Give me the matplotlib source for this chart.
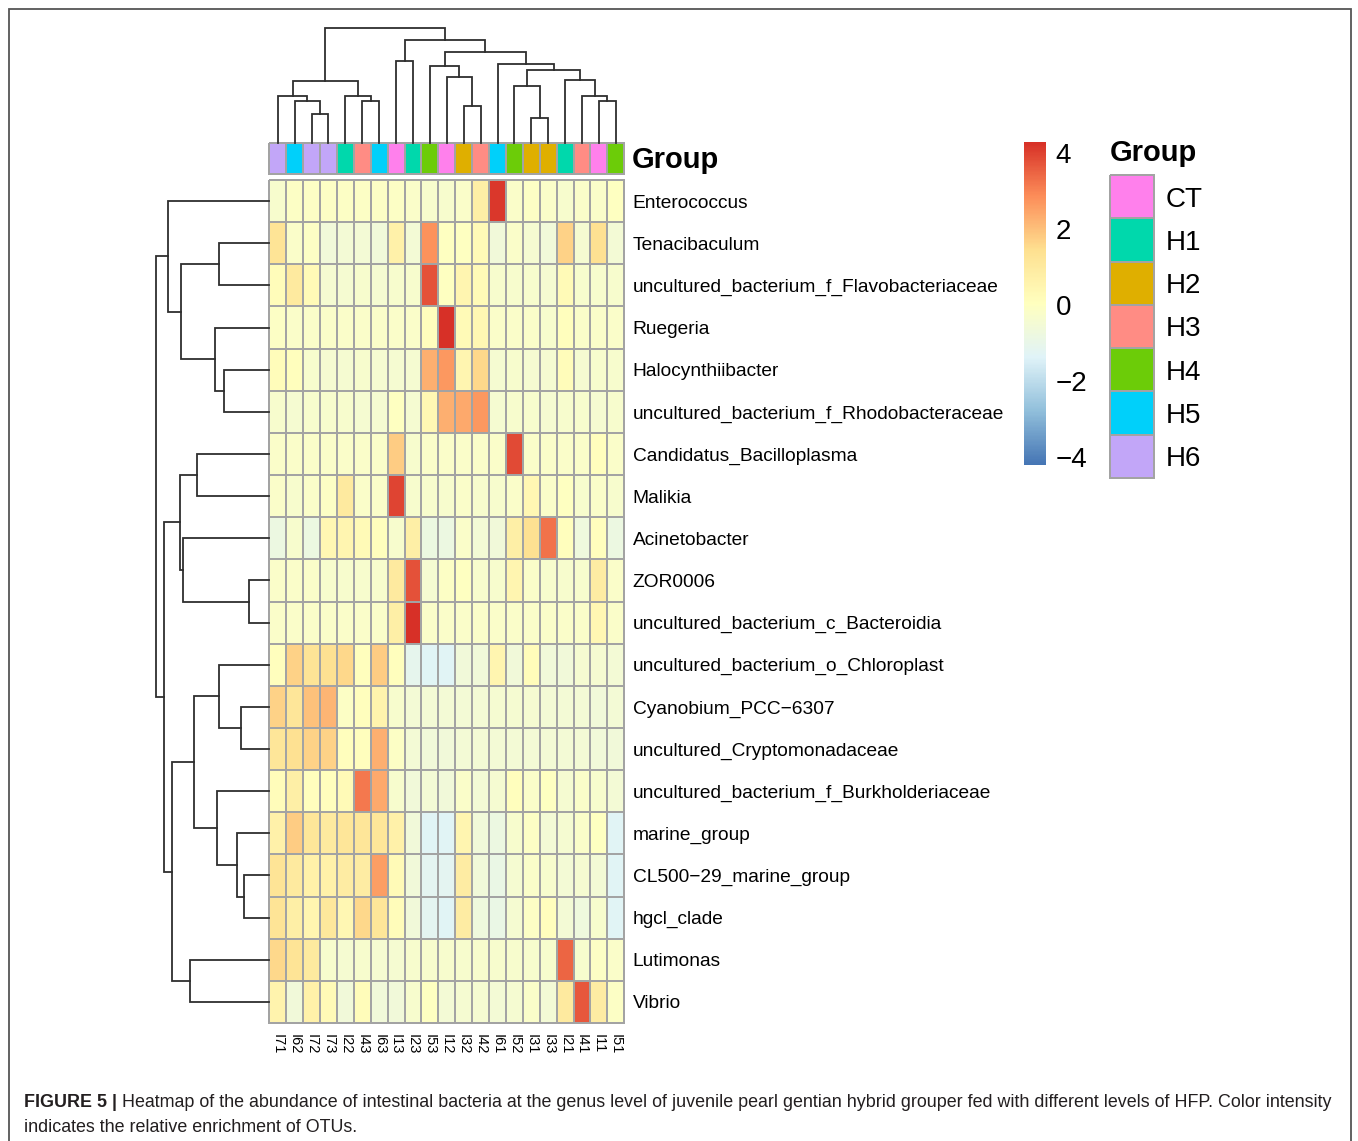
import numpy as np
import matplotlib
matplotlib.use("Agg")
import matplotlib.pyplot as plt
from matplotlib.colors import LinearSegmentedColormap, ListedColormap, Normalize
from matplotlib import font_manager
from matplotlib.cm import ScalarMappable

# ---------------- data ----------------
genera = ["Enterococcus", "Tenacibaculum", "uncultured_bacterium_f_Flavobacteriaceae",
          "Ruegeria", "Halocynthiibacter", "uncultured_bacterium_f_Rhodobacteraceae",
          "Candidatus_Bacilloplasma", "Malikia", "Acinetobacter", "ZOR0006",
          "uncultured_bacterium_c_Bacteroidia", "uncultured_bacterium_o_Chloroplast",
          "Cyanobium_PCC\u22126307", "uncultured_Cryptomonadaceae",
          "uncultured_bacterium_f_Burkholderiaceae", "marine_group",
          "CL500\u221229_marine_group", "hgcl_clade", "Lutimonas", "Vibrio"]

samples = ["I71", "I62", "I72", "I73", "I22", "I43", "I63", "I13", "I23", "I53", "I12",
           "I32", "I42", "I61", "I52", "I31", "I33", "I21", "I41", "I11", "I51"]
sample_groups = ["H6", "H5", "H6", "H6", "H1", "H3", "H5", "CT", "H1", "H4", "CT",
                 "H2", "H3", "H5", "H4", "H2", "H2", "H1", "H3", "CT", "H4"]

group_names = ["CT", "H1", "H2", "H3", "H4", "H5", "H6"]
group_colors = ["#FF80EC", "#00D8AC", "#DFAF00", "#FF8C84", "#6CCC08", "#00D0FA", "#C2A6F8"]

# row-scaled relative abundance (z-scores), one list per genus
z_rows = [
    [-0.3, -0.1, -0.1, -0.1, -0.1, -0.1, -0.1, -0.1, -0.2, -0.3, -0.3, -0.2, 0.8, 4.2, -0.2, -0.1, -0.2, -0.3, -0.2, -0.2, 0.0],
    [1.3, -0.2, -0.1, -0.6, -0.5, -0.5, -0.6, 0.7, -0.5, 2.8, 0.0, 0.0, 0.3, -0.6, -0.2, -0.4, -0.6, 1.7, -0.4, 1.4, -0.5],
    [0.2, 1.0, 0.3, -0.4, -0.4, -0.3, -0.4, -0.3, -0.3, 3.8, 0.0, 0.5, 0.3, -0.3, -0.3, -0.3, -0.4, 0.3, -0.3, -0.3, -0.3],
    [-0.1, -0.2, -0.2, -0.2, -0.2, -0.2, -0.2, -0.2, -0.2, 0.1, 4.3, 0.3, 0.4, -0.2, -0.2, -0.2, -0.3, 0.1, -0.2, -0.2, -0.2],
    [0.2, 0.1, -0.3, -0.4, -0.4, -0.3, -0.4, -0.4, -0.4, 2.3, 2.7, 0.5, 1.6, -0.4, -0.3, -0.4, -0.4, 0.2, -0.4, -0.3, -0.3],
    [-0.3, -0.4, -0.3, -0.3, -0.3, -0.4, -0.4, 0.0, -0.4, 0.4, 2.3, 2.4, 2.7, -0.4, -0.3, -0.3, -0.4, -0.3, -0.3, -0.4, -0.3],
    [-0.2, -0.2, -0.2, -0.2, -0.2, -0.2, -0.2, 1.8, -0.3, -0.2, -0.2, -0.2, -0.2, -0.2, 3.9, -0.2, -0.2, -0.2, -0.2, 0.1, -0.2],
    [-0.2, -0.3, -0.2, -0.1, 1.0, -0.2, -0.2, 4.0, -0.3, -0.3, -0.3, -0.2, -0.3, -0.3, -0.2, 0.4, -0.2, 0.0, -0.3, -0.2, -0.3],
    [-0.8, -0.3, -0.8, 0.4, 0.5, 0.3, 0.1, -0.3, 0.8, -0.8, -0.8, -0.2, -0.5, -0.6, 0.8, 1.4, 3.3, 0.1, -0.7, 0.1, -0.8],
    [-0.2, -0.2, -0.2, -0.3, -0.3, -0.3, -0.3, 1.0, 3.8, -0.4, -0.1, 0.0, -0.3, -0.3, 0.5, -0.2, -0.3, -0.3, -0.3, 0.9, -0.2],
    [-0.2, -0.2, -0.2, -0.2, -0.2, -0.2, -0.2, 0.8, 4.3, -0.2, -0.2, -0.2, -0.2, -0.2, -0.2, -0.2, -0.2, -0.2, -0.2, 0.4, -0.2],
    [0.1, 1.7, 1.3, 1.4, 1.6, 0.1, 1.8, 0.1, -1.1, -1.3, -1.3, -0.6, -0.6, 0.5, -0.6, 0.2, -0.6, -0.6, -0.4, -0.4, -0.5],
    [1.7, 1.2, 2.0, 2.2, -0.1, 0.1, 0.6, -0.3, -0.5, -0.5, -0.5, -0.5, -0.5, -0.4, -0.4, -0.4, -0.5, -0.5, -0.5, -0.6, -0.5],
    [1.2, 1.4, 1.7, 1.7, 0.1, 0.1, 2.3, -0.1, -0.5, -0.6, -0.6, -0.5, -0.5, -0.5, -0.5, -0.5, -0.5, -0.5, -0.5, -0.6, -0.6],
    [0.2, 0.8, 0.1, 0.1, 0.3, 3.2, 2.4, -0.3, -0.6, -0.5, -0.6, -0.2, -0.5, -0.4, 0.1, -0.2, 0.0, -0.4, -0.2, -0.3, -0.5],
    [0.7, 1.8, 1.2, 1.0, 1.2, 1.2, 1.2, 0.7, -0.6, -1.3, -1.3, 0.5, -0.6, -0.8, -0.3, -0.1, -0.5, -0.4, -0.2, 0.0, -1.3],
    [1.3, 1.0, 0.7, 0.7, 0.9, 0.9, 2.6, 0.3, -0.6, -1.2, -1.2, 0.9, -0.6, -0.9, -0.4, -0.2, -0.3, -0.5, -0.4, -0.5, -1.3],
    [1.3, 0.8, 0.5, 1.1, 0.4, 1.6, 1.2, 0.2, -0.6, -1.2, -1.3, 0.9, -0.7, -0.9, -0.4, -0.1, 0.1, -0.5, -0.7, -0.3, -1.3],
    [1.6, 1.3, 1.0, -0.3, -0.4, -0.3, -0.4, -0.4, -0.3, -0.3, -0.3, -0.3, -0.3, -0.3, -0.3, -0.3, -0.3, 3.5, -0.3, -0.1, -0.2],
    [0.6, -0.6, 0.7, 0.3, -0.6, 0.2, -0.6, -0.6, -0.3, 0.0, -0.5, -0.4, -0.4, -0.5, -0.4, -0.2, -0.5, 1.0, 3.7, 0.9, -0.1],
]

# hierarchical clustering merges: (child_a, child_b, height); ids >= n refer to earlier merges
col_merges = [(2, 3, 87), (1, 21, 125), (0, 22, 140), (5, 6, 125), (4, 24, 140), (23, 25, 185),
              (7, 8, 245), (11, 12, 112), (10, 28, 198), (9, 29, 230), (15, 16, 73), (14, 31, 170),
              (19, 20, 125), (18, 33, 140), (17, 34, 188), (32, 35, 218), (13, 36, 238),
              (30, 37, 273), (27, 38, 310), (26, 39, 345)]
row_merges = [(1, 2, 150), (4, 5, 137), (3, 21, 161), (20, 22, 265), (0, 23, 302), (6, 7, 217),
              (9, 10, 62), (8, 26, 259), (25, 27, 267), (12, 13, 84), (11, 29, 150), (16, 17, 77),
              (15, 31, 97), (14, 32, 155), (30, 33, 225), (18, 19, 237), (34, 35, 292),
              (28, 36, 315), (24, 37, 339)]

color_range = (-4.2, 4.3)
colorbar_ticks = [-4, -2, 0, 2, 4]

caption_bold = "FIGURE 5 |"
caption_line1 = ("Heatmap of the abundance of intestinal bacteria at the genus level of juvenile "
                 "pearl gentian hybrid grouper fed with different levels of HFP. Color intensity")
caption_line2 = "indicates the relative enrichment of OTUs."

# ---------------- styling / layout ----------------
W, H = 1358, 1141
plt.rcParams["font.family"] = ["Liberation Sans", "DejaVu Sans"]
fig = plt.figure(figsize=(W / 100, H / 100), dpi=100)


def px_axes(x0, y0, x1, y1):
    return fig.add_axes([x0 / W, 1 - y1 / H, (x1 - x0) / W, (y1 - y0) / H])


cmap = LinearSegmentedColormap.from_list(
    "rdylbu_r", ["#4575B4", "#91BFDB", "#E0F3F8", "#FFFFBF", "#FEE090", "#FC8D59", "#D73027"])
norm = Normalize(*color_range)
border = "#A3A3A3"
dend_color = "#2E2E2E"

data = np.array(z_rows)
nrow, ncol = data.shape

HX0, HX1, HY0, HY1 = 269.3, 624.3, 180, 1023

# heatmap
ax = px_axes(HX0, HY0, HX1, HY1)
mesh = ax.pcolormesh(np.arange(ncol + 1), np.arange(nrow + 1), data, cmap=cmap, norm=norm,
                     edgecolors=border, linewidth=1.3)
mesh.set_clip_on(False)
ax.set_xlim(0, ncol)
ax.set_ylim(nrow, 0)
ax.set_xticks(np.arange(ncol) + 0.5)
ax.set_xticklabels(samples, rotation=270, fontsize=10.5, va="top", ha="center")
ax.set_yticks(np.arange(nrow) + 0.5)
ax.set_yticklabels(genera, fontsize=13.8)
ax.yaxis.tick_right()
ax.tick_params(length=0, pad=6)
ax.tick_params(axis="x", pad=8)
for s in ax.spines.values():
    s.set_visible(False)

# annotation bar
axa = px_axes(HX0, 143.3, HX1, 174.3)
gidx = np.array([[group_names.index(g) for g in sample_groups]])
am = axa.pcolormesh(np.arange(ncol + 1), [0, 1], gidx, cmap=ListedColormap(group_colors),
                    vmin=-0.5, vmax=len(group_names) - 0.5, edgecolors=border, linewidth=1.3)
am.set_clip_on(False)
axa.set_xlim(0, ncol)
axa.set_ylim(1, 0)
axa.set_axis_off()
fig.text(632 / W, 1 - 160 / H, "Group", fontsize=21, fontweight="bold", va="center", ha="left")


def draw_dendro(axd, merges, n, orient):
    pos = list(np.arange(n) + 0.5)
    hts = [0.0] * n
    for a, b, h in merges:
        pa, pb, ha, hb = pos[a], pos[b], hts[a], hts[b]
        if orient == "top":
            axd.plot([pa, pa, pb, pb], [ha, h, h, hb], color=dend_color, lw=1.3,
                     solid_joinstyle="miter", clip_on=False)
        else:
            axd.plot([ha, h, h, hb], [pa, pa, pb, pb], color=dend_color, lw=1.3,
                     solid_joinstyle="miter", clip_on=False)
        pos.append((pa + pb) / 2)
        hts.append(h)
    return max(hts)


# column dendrogram
axc = px_axes(HX0, 28.3, HX1, 142.7)
top = draw_dendro(axc, col_merges, ncol, "top")
axc.set_xlim(0, ncol)
axc.set_ylim(0, top)
axc.set_axis_off()

# row dendrogram
axr = px_axes(156, HY0, HX0, HY1)
top_r = draw_dendro(axr, row_merges, nrow, "left")
axr.set_xlim(top_r, 0)
axr.set_ylim(nrow, 0)
axr.set_axis_off()

# colorbar
axcb = px_axes(1024, 142, 1046, 465)
cb = fig.colorbar(ScalarMappable(norm=norm, cmap=cmap), cax=axcb, ticks=colorbar_ticks)
cb.outline.set_visible(False)
axcb.tick_params(length=0, labelsize=20, pad=7)

# group legend
axl = px_axes(1110, 175, 1153.5, 478)
lm = axl.pcolormesh([0, 1], np.arange(len(group_names) + 1),
                    np.arange(len(group_names)).reshape(-1, 1),
                    cmap=ListedColormap(group_colors), vmin=-0.5,
                    vmax=len(group_names) - 0.5, edgecolors=border, linewidth=1.3)
lm.set_clip_on(False)
axl.set_xlim(0, 1)
axl.set_ylim(len(group_names), 0)
axl.set_yticks(np.arange(len(group_names)) + 0.5)
axl.set_yticklabels(group_names, fontsize=20)
axl.yaxis.tick_right()
axl.set_xticks([])
axl.tick_params(length=0, pad=9)
for s in axl.spines.values():
    s.set_visible(False)
fig.text(1110 / W, 1 - 153 / H, "Group", fontsize=21, fontweight="bold", va="center", ha="left")

# frame and caption overlay
ov = fig.add_axes([0, 0, 1, 1], zorder=-1)
ov.set_xlim(0, W)
ov.set_ylim(H, 0)
ov.set_axis_off()
ov.plot([8.5, 8.5, 1350.5, 1350.5], [H + 5, 8.5, 8.5, H + 5], color="#555555", lw=1.3,
        solid_joinstyle="miter")

names = {f.name for f in font_manager.fontManager.ttflist}
cap_font = ["Liberation Sans Narrow"] if "Liberation Sans Narrow" in names else ["Liberation Sans"]
cap_font = cap_font + ["DejaVu Sans"]

renderer = fig.canvas.get_renderer()
target = 1338 - 24
fs = 13.0
for _ in range(4):
    tb = ov.text(24, 1107, caption_bold + " ", fontsize=fs, fontweight="bold", family=cap_font,
                 va="baseline", ha="left")
    tn = ov.text(0, 1107, caption_line1, fontsize=fs, family=cap_font, va="baseline", ha="left")
    wb = tb.get_window_extent(renderer).width
    wn = tn.get_window_extent(renderer).width
    tb.remove()
    tn.remove()
    fs = fs * target / (wb + wn + 3)
tb = ov.text(24, 1107, caption_bold, fontsize=fs, fontweight="bold", family=cap_font,
             va="baseline", ha="left", color="#231F20")
wb = tb.get_window_extent(renderer).width
ov.text(24 + wb + fs * 0.35, 1107, caption_line1, fontsize=fs, family=cap_font,
        va="baseline", ha="left", color="#231F20")
ov.text(24, 1132, caption_line2, fontsize=fs, family=cap_font, va="baseline", ha="left",
        color="#231F20")

fig.savefig("out.png", dpi=100, facecolor="white")
